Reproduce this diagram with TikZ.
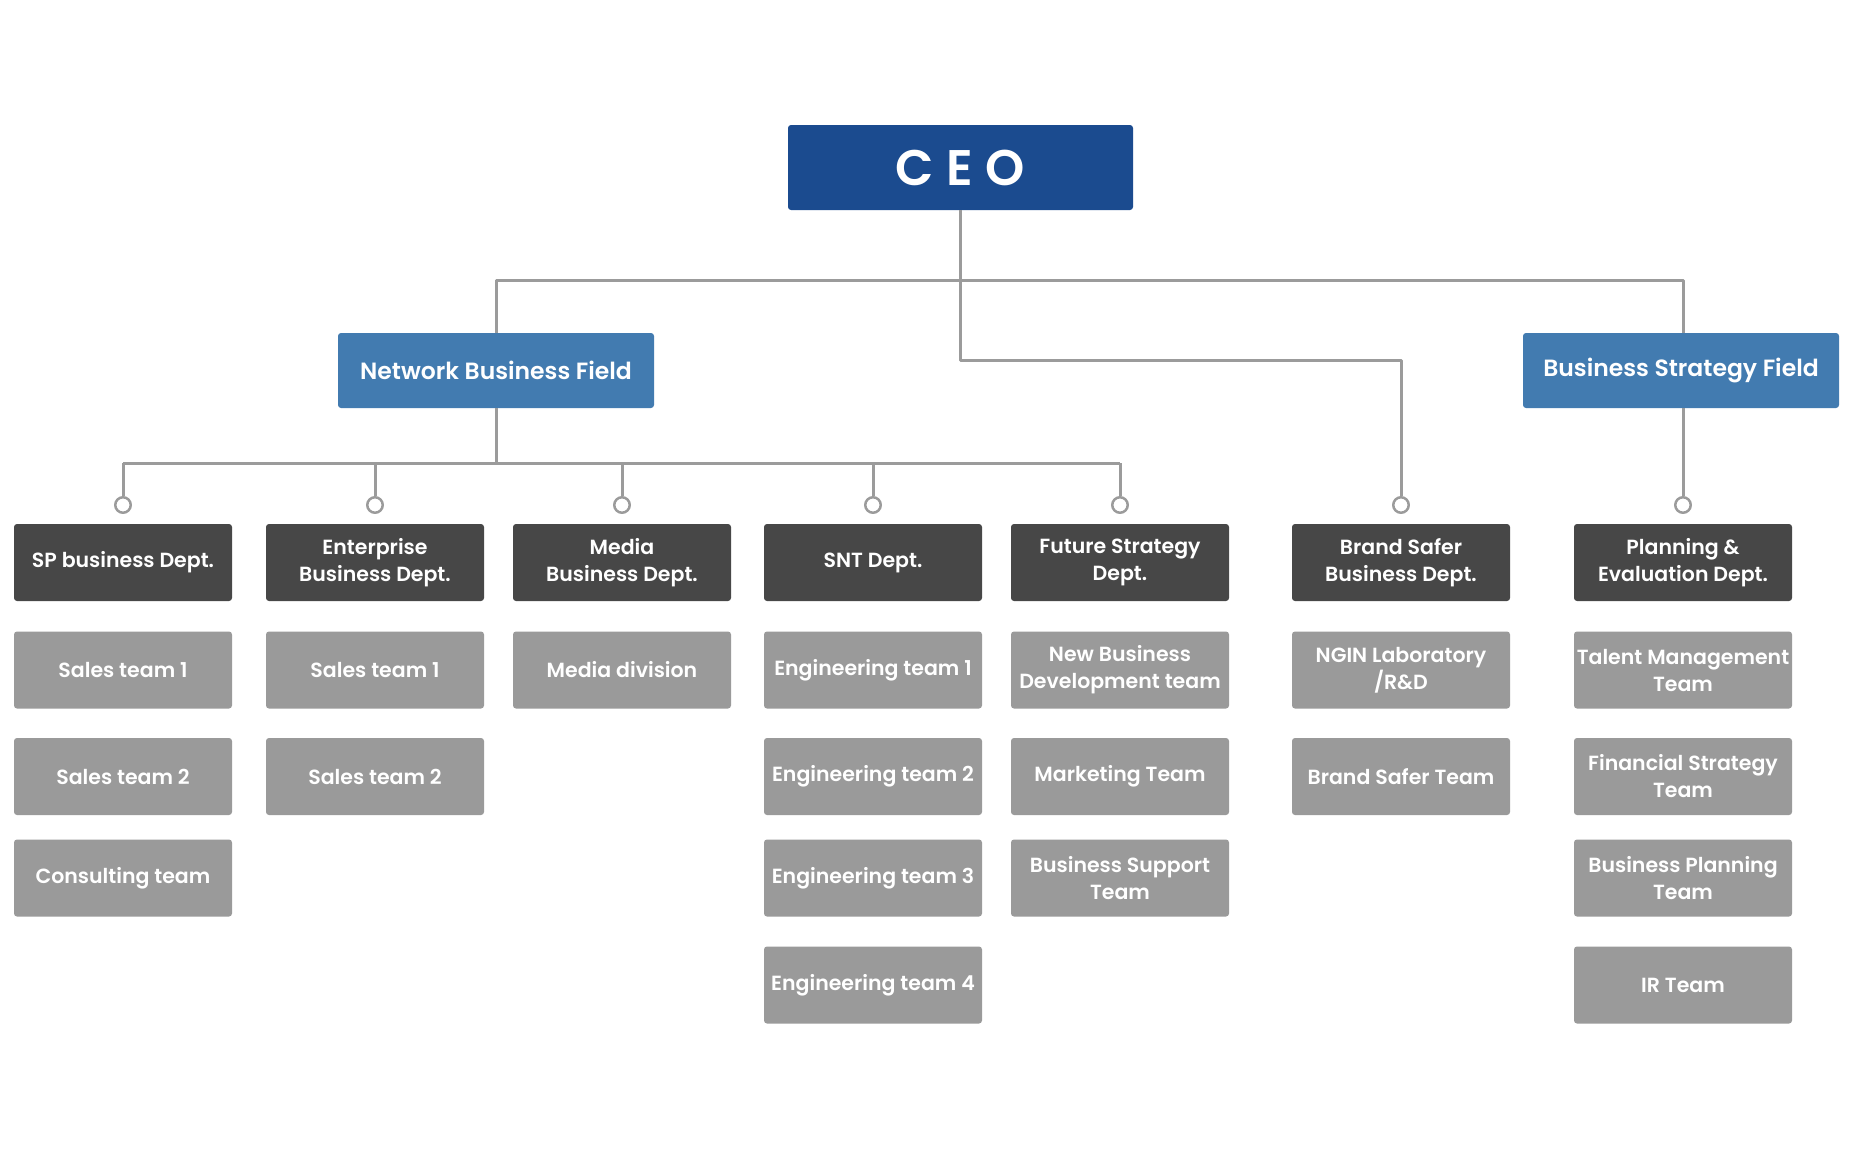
\documentclass[tikz,border=0pt]{standalone}
\usepackage{fontspec}
\setmainfont{Poppins}[BoldFont={Poppins SemiBold}]
\usetikzlibrary{positioning}
\definecolor{ceoblue}{HTML}{1B4B8F}
\definecolor{fieldblue}{HTML}{427BB0}
\definecolor{deptgray}{HTML}{474747}
\definecolor{teamgray}{HTML}{9A9A9A}
\definecolor{linegray}{HTML}{9B9B9B}

\begin{document}
\begin{tikzpicture}[x=1pt,y=-1pt,line join=round]
  \tikzset{
    box/.style={rounded corners=3pt,text=white,align=center,inner sep=0pt,font=\bfseries\fontsize{20.5}{27}\selectfont},
    ceobox/.style={box,fill=ceoblue,minimum width=345pt,minimum height=85pt,font=\bfseries\fontsize{50}{56}\selectfont\addfontfeatures{LetterSpace=25}},
    fieldbox/.style={box,fill=fieldblue,minimum width=316pt,minimum height=75pt,font=\bfseries\fontsize{23.5}{28}\selectfont},
    deptbox/.style={box,fill=deptgray,minimum width=218pt,minimum height=77pt},
    teambox/.style={box,fill=teamgray,minimum width=218pt,minimum height=77pt},
    knob/.style={circle,draw=linegray,fill=white,line width=2.5pt,minimum size=15.5pt,inner sep=0pt},
    link/.style={draw=linegray,line width=3pt}
  }
  \useasboundingbox (0,0) rectangle (1850,1159);

  % top levels
  \node[ceobox] (ceo) at (960.5,167.5) {CEO};
  \node[fieldbox] (nbf) at (496,370.5) {Network Business Field};
  \node[fieldbox] (bsf) at (1681,370.5) {Business Strategy Field};

  % departments
  \foreach \nm/\x/\txt in {sp/123/{SP business Dept.},ent/375/{Enterprise\\Business Dept.},med/622/{Media\\Business Dept.},snt/873/{SNT Dept.},fut/1120/{Future Strategy\\Dept.},brd/1401/{Brand Safer\\Business Dept.},pln/1683/{Planning \&\\Evaluation Dept.}}{
    \node[deptbox] (\nm) at (\x,562.5) {\txt};
    \node[knob] (k\nm) at (\x,505) {};
  }

  % teams
  \foreach \nm/\x/\y/\txt in {sp1/123/670/{Sales team 1},sp2/123/776.5/{Sales team 2},sp3/123/878/{Consulting team},
    ent1/375/670/{Sales team 1},ent2/375/776.5/{Sales team 2},
    med1/622/670/{Media division},
    snt1/873/670/{Engineering team 1},snt2/873/776.5/{Engineering team 2},snt3/873/878/{Engineering team 3},snt4/873/985/{Engineering team 4},
    fut1/1120/670/{New Business\\Development team},fut2/1120/776.5/{Marketing Team},fut3/1120/878/{Business Support\\Team},
    brd1/1401/670/{NGIN Laboratory\\/R\&D},brd2/1401/776.5/{Brand Safer Team},
    pln1/1683/670/{Talent Management\\Team},pln2/1683/776.5/{Financial Strategy\\Team},pln3/1683/878/{Business Planning\\Team},pln4/1683/985/{IR Team}}{
    \node[teambox] (\nm) at (\x,\y) {\txt};
  }

  % connectors
  \draw[link] (nbf.north) -- ++(0,-52) -| (kpln.north |- bsf.north);
  \draw[link] (ceo.south) -- ++(0,150) -| (kbrd.north);
  \draw[link] (nbf.south) -- ++(0,55) coordinate (bus);
  \draw[link] (ksp.north |- bus) -- (kfut.north |- bus);
  \foreach \nm in {sp,ent,med,snt,fut}{
    \draw[link] (bus -| k\nm.north) -- (k\nm.north);
  }
  \draw[link] (kpln.north |- bsf.south) -- (kpln.north);
\end{tikzpicture}
\end{document}
